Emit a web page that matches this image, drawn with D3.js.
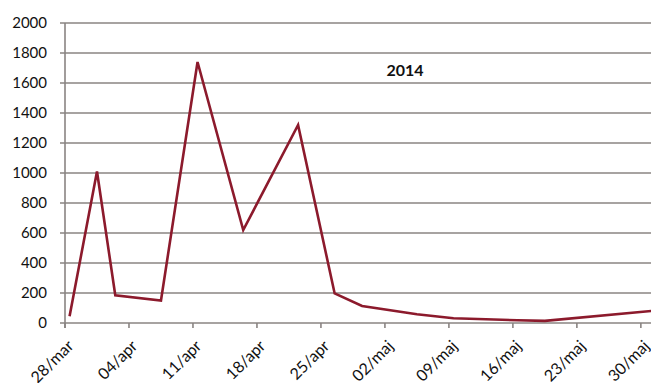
<!DOCTYPE html>
<html><head><meta charset="utf-8">
<script src="https://cdn.jsdelivr.net/npm/d3@7"></script>
<style>
html,body{margin:0;padding:0;background:#fff;}
svg{display:block;font-family:Lato,"Open Sans",sans-serif;}
</style></head>
<body>
<svg id="c" width="651" height="383"></svg>
<script>
const pointDates = ["2014-03-28","2014-03-31","2014-04-02","2014-04-07","2014-04-11","2014-04-16","2014-04-22","2014-04-26","2014-04-29","2014-05-05","2014-05-09","2014-05-16","2014-05-19","2014-06-01"];
const seriesValues = [45, 1010, 185, 150, 1740, 620, 1320, 197, 113, 58, 32, 18, 14, 88];
const xTickDates = ["2014-03-28","2014-04-04","2014-04-11","2014-04-18","2014-04-25","2014-05-02","2014-05-09","2014-05-16","2014-05-23","2014-05-30"];
const xTickLabels = ["28/mar","04/apr","11/apr","18/apr","25/apr","02/maj","09/maj","16/maj","23/maj","30/maj"];
const yTicks = [0,200,400,600,800,1000,1200,1400,1600,1800,2000];
const title = "2014";

const parse = d3.utcParse("%Y-%m-%d");
const W = 651, H = 383;
const m = {left:65, top:23, bottom:323, right:650};
const svg = d3.select("#c");
svg.append("defs").append("clipPath").attr("id","clip")
  .append("rect").attr("x",0).attr("y",0).attr("width",W).attr("height",H);

const x = d3.scaleUtc().domain([parse("2014-03-28"), parse("2014-05-31")]).range([m.left, m.right]);
const y = d3.scaleLinear().domain([0,2000]).range([m.bottom, m.top]);
const grid = "#8a8482";

// gridlines
svg.append("g").selectAll("line").data(yTicks).join("line")
  .attr("x1", m.left-5).attr("x2", W)
  .attr("y1", d=>y(d)).attr("y2", d=>y(d))
  .attr("stroke", grid).attr("stroke-width", 1.6);

// y axis line
svg.append("line").attr("x1",m.left).attr("x2",m.left).attr("y1",m.top).attr("y2",m.bottom+5)
  .attr("stroke",grid).attr("stroke-width",1.6);

// y labels
svg.append("g").selectAll("text").data(yTicks).join("text")
  .attr("x", 47).attr("y", d=>y(d)).attr("dy","0.36em")
  .attr("text-anchor","end").attr("font-size",15).attr("fill","#111")
  .text(d=>d);

// x ticks
const xt = xTickDates.map(parse);
svg.append("g").selectAll("line").data(xt).join("line")
  .attr("x1", d=>x(d)).attr("x2", d=>x(d))
  .attr("y1", m.bottom).attr("y2", m.bottom+5)
  .attr("stroke",grid).attr("stroke-width",1.6);

svg.append("g").selectAll("text").data(xt).join("text")
  .attr("transform", d=>`translate(${x(d)+9.5},${m.bottom+24}) rotate(-45)`)
  .attr("text-anchor","end")
  .attr("font-size",16).attr("fill","#111")
  .text((d,i)=>xTickLabels[i]);

// line
const halfDay = 12*3600*1000;
const pts = pointDates.map((d,i)=>({date:new Date(parse(d).getTime()+halfDay), v:seriesValues[i]}));
svg.append("path").datum(pts)
  .attr("clip-path","url(#clip)")
  .attr("fill","none").attr("stroke","#8c1a2c").attr("stroke-width",2.6)
  .attr("stroke-linejoin","miter")
  .attr("d", d3.line().x(d=>x(d.date)).y(d=>y(d.v)));

// title
svg.append("text").attr("x",405).attr("y",70).attr("dy","0.35em")
  .attr("text-anchor","middle").attr("font-size",16).attr("font-weight","bold").attr("fill","#111")
  .text(title);
</script>
</body></html>
